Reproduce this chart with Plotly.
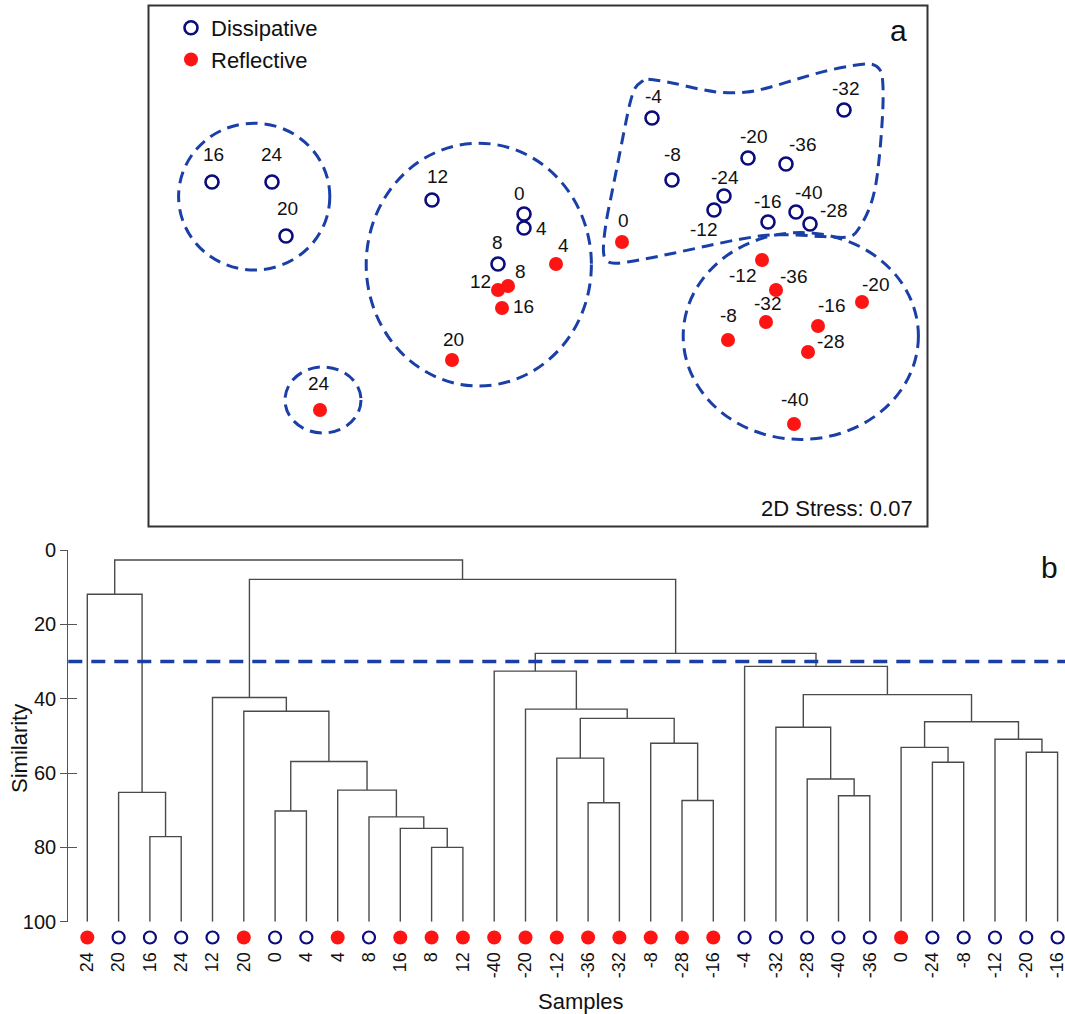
import plotly.graph_objects as go

W, H = 1065, 1014

# ---------------- (a) NMDS ordination ----------------
D_LABELS = ["16", "24", "20", "12", "0", "4", "8", "-4", "-8", "-20", "-36",
            "-32", "-24", "-12", "-16", "-40", "-28"]
D_X = [-1.63, -1.33, -1.26, -0.53, -0.07, -0.07, -0.20, 0.57, 0.67, 1.05, 1.24,
       1.53, 0.93, 0.88, 1.15, 1.29, 1.36]
D_Y = [0.42, 0.42, 0.15, 0.33, 0.26, 0.19, 0.01, 0.74, 0.43, 0.54, 0.51,
       0.78, 0.35, 0.28, 0.22, 0.27, 0.21]

R_LABELS = ["24", "20", "4", "8", "12", "16", "0", "-12", "-36", "-20", "-32",
            "-8", "-16", "-28", "-40"]
R_X = [-1.09, -0.43, 0.09, -0.15, -0.20, -0.18, 0.42, 1.12, 1.19, 1.62, 1.14,
       0.95, 1.40, 1.35, 1.28]
R_Y = [-0.72, -0.47, 0.01, -0.10, -0.12, -0.21, 0.12, 0.03, -0.12, -0.18, -0.28,
       -0.37, -0.30, -0.43, -0.79]

STRESS = 0.07

# ---------------- (b) cluster dendrogram ----------------
LEAF_LABELS = ["24", "20", "16", "24", "12", "20", "0", "4", "4", "8", "16", "8",
               "12", "-40", "-20", "-12", "-36", "-32", "-8", "-28", "-16", "-4",
               "-32", "-28", "-40", "-36", "0", "-24", "-8", "-12", "-20", "-16"]
LEAF_GROUP = ["R", "D", "D", "D", "D", "R", "D", "D", "R", "D", "R", "R",
              "R", "R", "R", "R", "R", "R", "R", "R", "R", "D",
              "D", "D", "D", "D", "R", "D", "D", "D", "D", "D"]
# linkage: node (32 + k) joins MERGE_A[k] and MERGE_B[k] at MERGE_SIM[k] % similarity
MERGE_A = [11, 10, 9, 8, 6, 36, 5, 4, 2, 1, 0, 16, 15, 19, 18, 44, 14, 13, 24, 23,
           22, 27, 26, 30, 29, 54, 52, 21, 49, 39, 42]
MERGE_B = [12, 32, 33, 34, 7, 35, 37, 38, 3, 40, 41, 17, 43, 20, 45, 46, 47, 48, 25,
           50, 51, 28, 53, 31, 55, 56, 57, 58, 59, 60, 61]
MERGE_SIM = [80.0, 74.9, 71.8, 64.6, 70.2, 56.9, 43.4, 39.7, 77.1, 65.2, 11.9,
             68.0, 56.0, 67.4, 52.0, 45.3, 42.8, 32.6, 66.1, 61.6, 47.7, 57.1,
             53.1, 54.4, 50.9, 46.2, 38.9, 31.3, 27.8, 7.9, 2.7]
CUT_LEVEL = 30

# ---------------- styling ----------------
FONT = "Liberation Sans, Arial, sans-serif"
NAVY = "#0c0c7c"
RED = "#ff1414"
DASH_BLUE = "#1a3fa6"
TREE = "#4a4a4a"

# label placement around NMDS points (pixel offsets: right, down)
D_LABEL_OFFSET = {
    "16": (1, -25), "24": (0, -25), "20": (1, -25), "12": (5, -21), "0": (-5, -18),
    "4": (17, 3), "8": (-1, -20), "-4": (1, -19), "-8": (0, -23), "-20": (5, -19),
    "-36": (16, -17), "-32": (1, -19), "-24": (1, -16), "-12": (-11, 22),
    "-16": (-1, -18), "-40": (12, -17), "-28": (23, -11),
}
R_LABEL_OFFSET = {
    "24": (-1, -25), "20": (1, -19), "4": (7, -17), "8": (12, -13), "12": (-18, -7),
    "16": (21, 0), "0": (1, -19), "-12": (-20, 17), "-36": (17, -12), "-20": (13, -16),
    "-32": (1, -17), "-8": (0, -23), "-16": (13, -19), "-28": (22, -9), "-40": (0, -23),
}
LABEL_LIFT = 2  # digits sit slightly low in their text box

# cluster outlines in ordination units (centre x, centre y, radius x, radius y)
CLUSTER_ELLIPSES = [
    (-1.419, 0.347, 0.378, 0.367),
    (-0.296, 0.007, 0.563, 0.607),
    (-1.075, -0.670, 0.190, 0.165),
    (1.314, -0.350, 0.588, 0.517),
]
# free-form outline around the negative-depth dissipative samples
BLOB_X = [0.552, 0.677, 0.810, 0.927, 1.044, 1.160, 1.294, 1.427, 1.560, 1.660, 1.710,
          1.724, 1.724, 1.710, 1.690, 1.660, 1.610, 1.560, 1.427, 1.294, 1.160, 1.010,
          0.844, 0.677, 0.527, 0.394, 0.344, 0.327, 0.340, 0.369, 0.402, 0.435, 0.460,
          0.485, 0.519]
BLOB_Y = [0.934, 0.914, 0.884, 0.867, 0.870, 0.894, 0.934, 0.972, 1.000, 1.010, 0.980,
          0.914, 0.780, 0.580, 0.414, 0.297, 0.197, 0.147, 0.147, 0.155, 0.155, 0.134,
          0.100, 0.064, 0.034, 0.014, 0.027, 0.080, 0.214, 0.364, 0.530, 0.697, 0.814,
          0.889, 0.922]


def px_x(p):
    return p / W


def px_y(p):
    return 1 - p / H


def smooth_closed_path(xs, ys):
    """Closed Catmull-Rom spline through the points, as an SVG path."""
    n = len(xs)
    pts = list(zip(xs, ys))
    d = f"M {pts[0][0]},{pts[0][1]}"
    for i in range(n):
        p0 = pts[(i - 1) % n]
        p1 = pts[i]
        p2 = pts[(i + 1) % n]
        p3 = pts[(i + 2) % n]
        c1 = (p1[0] + (p2[0] - p0[0]) / 6, p1[1] + (p2[1] - p0[1]) / 6)
        c2 = (p2[0] - (p3[0] - p1[0]) / 6, p2[1] - (p3[1] - p1[1]) / 6)
        d += f" C {c1[0]:.4f},{c1[1]:.4f} {c2[0]:.4f},{c2[1]:.4f} {p2[0]:.4f},{p2[1]:.4f}"
    return d + " Z"


fig = go.Figure()

# ---- NMDS points ----
fig.add_trace(go.Scatter(
    x=D_X, y=D_Y, mode="markers", name="Dissipative", xaxis="x2", yaxis="y2",
    marker=dict(symbol="circle-open", size=13, color=NAVY, line=dict(width=2.6, color=NAVY)),
    cliponaxis=False,
))
fig.add_trace(go.Scatter(
    x=R_X, y=R_Y, mode="markers", name="Reflective", xaxis="x2", yaxis="y2",
    marker=dict(symbol="circle", size=14, color=RED, line=dict(width=0)),
    cliponaxis=False,
))

# ---- dendrogram branches ----
n_leaf = len(LEAF_LABELS)
node_x = {i: float(i) for i in range(n_leaf)}
node_h = {i: 100.0 for i in range(n_leaf)}
seg_x, seg_y = [], []
for k, (a, b, s) in enumerate(zip(MERGE_A, MERGE_B, MERGE_SIM)):
    xa, xb = node_x[a], node_x[b]
    seg_x += [xa, xa, xb, xb, None]
    seg_y += [node_h[a], s, s, node_h[b], None]
    node_x[n_leaf + k] = (xa + xb) / 2
    node_h[n_leaf + k] = s

fig.add_trace(go.Scatter(
    x=seg_x, y=seg_y, mode="lines", line=dict(color=TREE, width=1.4),
    showlegend=False, hoverinfo="skip", xaxis="x", yaxis="y",
))

# ---- leaf symbols in a thin strip under the tree ----
d_idx = [i for i, g in enumerate(LEAF_GROUP) if g == "D"]
r_idx = [i for i, g in enumerate(LEAF_GROUP) if g == "R"]
fig.add_trace(go.Scatter(
    x=d_idx, y=[0.5] * len(d_idx), mode="markers", showlegend=False,
    marker=dict(symbol="circle-open", size=12, color=NAVY, line=dict(width=2.2, color=NAVY)),
    cliponaxis=False, xaxis="x", yaxis="y3",
))
fig.add_trace(go.Scatter(
    x=r_idx, y=[0.5] * len(r_idx), mode="markers", showlegend=False,
    marker=dict(symbol="circle", size=14, color=RED),
    cliponaxis=False, xaxis="x", yaxis="y3",
))

shapes = []
annotations = []

# NMDS frame
shapes.append(dict(type="rect", xref="x2 domain", yref="y2 domain", x0=0, x1=1, y0=0, y1=1,
                   line=dict(color="#333333", width=2)))
# cluster outlines
for cx, cy, rx, ry in CLUSTER_ELLIPSES:
    shapes.append(dict(type="circle", xref="x2", yref="y2",
                       x0=cx - rx, x1=cx + rx, y0=cy - ry, y1=cy + ry,
                       line=dict(color=DASH_BLUE, width=3, dash="12px,7px")))
shapes.append(dict(type="path", xref="x2", yref="y2", path=smooth_closed_path(BLOB_X, BLOB_Y),
                   line=dict(color=DASH_BLUE, width=3, dash="12px,7px")))
# cut level on the dendrogram
shapes.append(dict(type="line", xref="x domain", yref="y", x0=0, x1=1, y0=CUT_LEVEL, y1=CUT_LEVEL,
                   line=dict(color=DASH_BLUE, width=3.4, dash="14px,9px")))

# NMDS point labels
for lab, x, y in zip(D_LABELS, D_X, D_Y):
    dx, dy = D_LABEL_OFFSET[lab]
    annotations.append(dict(x=x, y=y, xref="x2", yref="y2", text=lab, showarrow=False,
                            xshift=dx, yshift=-dy + LABEL_LIFT, font=dict(size=19, color="#111")))
for lab, x, y in zip(R_LABELS, R_X, R_Y):
    dx, dy = R_LABEL_OFFSET[lab]
    annotations.append(dict(x=x, y=y, xref="x2", yref="y2", text=lab, showarrow=False,
                            xshift=dx, yshift=-dy + LABEL_LIFT, font=dict(size=19, color="#111")))

annotations += [
    dict(x=px_x(915), y=px_y(508), xref="paper", yref="paper", text=f"2D Stress: {STRESS:.2f}",
         showarrow=False, xanchor="right", yanchor="middle", font=dict(size=22, color="#111")),
    dict(x=px_x(898), y=px_y(30), xref="paper", yref="paper", text="a", showarrow=False,
         xanchor="center", yanchor="middle", font=dict(size=30, color="#111")),
    dict(x=px_x(1049), y=px_y(567), xref="paper", yref="paper", text="b", showarrow=False,
         xanchor="center", yanchor="middle", font=dict(size=30, color="#111")),
    dict(x=px_x(19), y=px_y(749), xref="paper", yref="paper", text="Similarity", showarrow=False,
         textangle=-90, xanchor="center", yanchor="middle", font=dict(size=22, color="#111")),
    dict(x=px_x(581), y=px_y(1001), xref="paper", yref="paper", text="Samples", showarrow=False,
         xanchor="center", yanchor="middle", font=dict(size=22, color="#111")),
]

x_left, x0_leaf, step = 68.3, 87.3, 31.3
y_top, y_bot = 550.0, 921.7

fig.update_layout(
    width=W, height=H, margin=dict(l=0, r=0, t=0, b=0, pad=0, autoexpand=False),
    paper_bgcolor="white", plot_bgcolor="white",
    font=dict(family=FONT, color="#111"),
    showlegend=True,
    legend=dict(x=px_x(171), y=px_y(7), xanchor="left", yanchor="top",
                font=dict(size=22, color="#111"), bgcolor="rgba(0,0,0,0)",
                itemsizing="trace", tracegroupgap=0),
    xaxis=dict(domain=[px_x(x_left), 1.0],
               range=[(x_left - x0_leaf) / step, (W - x0_leaf) / step],
               showgrid=False, zeroline=False, showline=False, ticks="",
               tickmode="array", tickvals=list(range(n_leaf)), ticktext=LEAF_LABELS,
               tickangle=-90, tickfont=dict(size=18, color="#111"),
               ticklabelstandoff=26, ticklabeloverflow="allow", automargin=False, anchor="y"),
    yaxis=dict(domain=[px_y(y_bot), px_y(y_top)], range=[100, 0],
               showgrid=False, zeroline=False, showline=True, linecolor="#555", linewidth=1.3,
               ticks="outside", ticklen=7, tickwidth=1.3, tickcolor="#555",
               tickmode="array", tickvals=[0, 20, 40, 60, 80, 100],
               tickfont=dict(size=20, color="#111"), automargin=False, anchor="x"),
    yaxis3=dict(domain=[px_y(947), px_y(928)], range=[0, 1], visible=False, anchor="x"),
    yaxis4=dict(domain=[px_y(y_bot), px_y(y_top)], range=[100, 0], overlaying="y",
                showgrid=False, zeroline=False, showline=False,
                ticks="inside", ticklen=9, tickwidth=1.3, tickcolor="#555",
                tickmode="array", tickvals=[0, 20, 40, 60, 80, 100], showticklabels=False,
                automargin=False, anchor="x"),
    xaxis2=dict(domain=[px_x(148.5), px_x(927.5)], range=[-1.9475, 1.9475],
                visible=False, anchor="y2"),
    yaxis2=dict(domain=[px_y(526.5), px_y(5.5)], range=[-1.3025, 1.3025],
                visible=False, anchor="x2"),
    shapes=shapes,
    annotations=annotations,
)

# an invisible trace keeps the inner tick axis drawn
fig.add_trace(go.Scatter(x=[None], y=[None], xaxis="x", yaxis="y4", showlegend=False))

fig.write_html("out.html")
